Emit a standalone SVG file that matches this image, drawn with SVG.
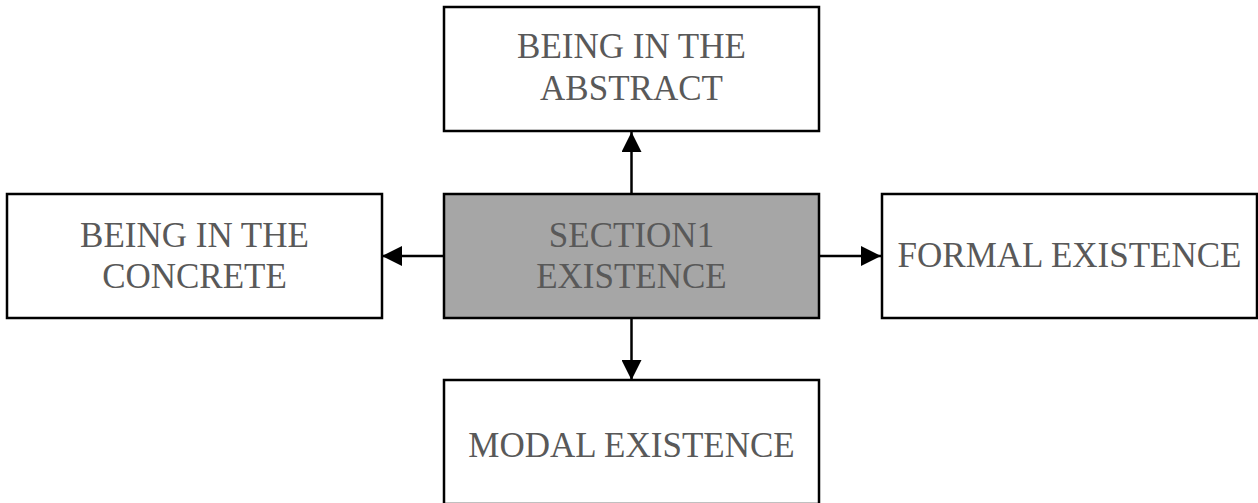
<svg xmlns="http://www.w3.org/2000/svg" width="1258" height="503" viewBox="0 0 1258 503">
<style>
.box{fill:#ffffff;stroke:#000000;stroke-width:2.5}
.center{fill:#a6a6a6}
.lbl{font-family:"Liberation Serif","Times New Roman",serif;font-size:35px;fill:#595959;text-anchor:middle}
.con{stroke:#000000;stroke-width:2.5;fill:none}
</style>
<defs>
<marker id="ah" markerWidth="20" markerHeight="20" viewBox="0 0 20 20" refX="20" refY="10" orient="auto" markerUnits="userSpaceOnUse">
<path d="M0,0 L20,10 L0,20 Z" fill="#000000"/>
</marker>
</defs>
<rect width="1258" height="503" fill="#ffffff"/>
<g id="connectors">
<line class="con" x1="631.5" y1="194" x2="631.5" y2="132" marker-end="url(#ah)"/>
<line class="con" x1="631.5" y1="318" x2="631.5" y2="380" marker-end="url(#ah)"/>
<line class="con" x1="444" y1="256" x2="382" y2="256" marker-end="url(#ah)"/>
<line class="con" x1="819" y1="256" x2="881" y2="256" marker-end="url(#ah)"/>
</g>
<g id="center">
<rect class="box center" x="444" y="194" width="375" height="124"/>
<text class="lbl" x="631.5" y="247">SECTION1</text>
<text class="lbl" x="631.5" y="288">EXISTENCE</text>
</g>
<g id="abstract">
<rect class="box" x="444" y="7" width="375" height="124"/>
<text class="lbl" x="631.5" y="58">BEING IN THE</text>
<text class="lbl" x="631.5" y="100">ABSTRACT</text>
</g>
<g id="concrete">
<rect class="box" x="7" y="194" width="375" height="124"/>
<text class="lbl" x="194.5" y="247">BEING IN THE</text>
<text class="lbl" x="194.5" y="288">CONCRETE</text>
</g>
<g id="formal">
<rect class="box" x="882" y="194" width="375" height="124"/>
<text class="lbl" x="1069.5" y="267">FORMAL EXISTENCE</text>
</g>
<g id="modal">
<rect class="box" x="444" y="380" width="375" height="124"/>
<text class="lbl" x="631.5" y="457">MODAL EXISTENCE</text>
</g>
</svg>
